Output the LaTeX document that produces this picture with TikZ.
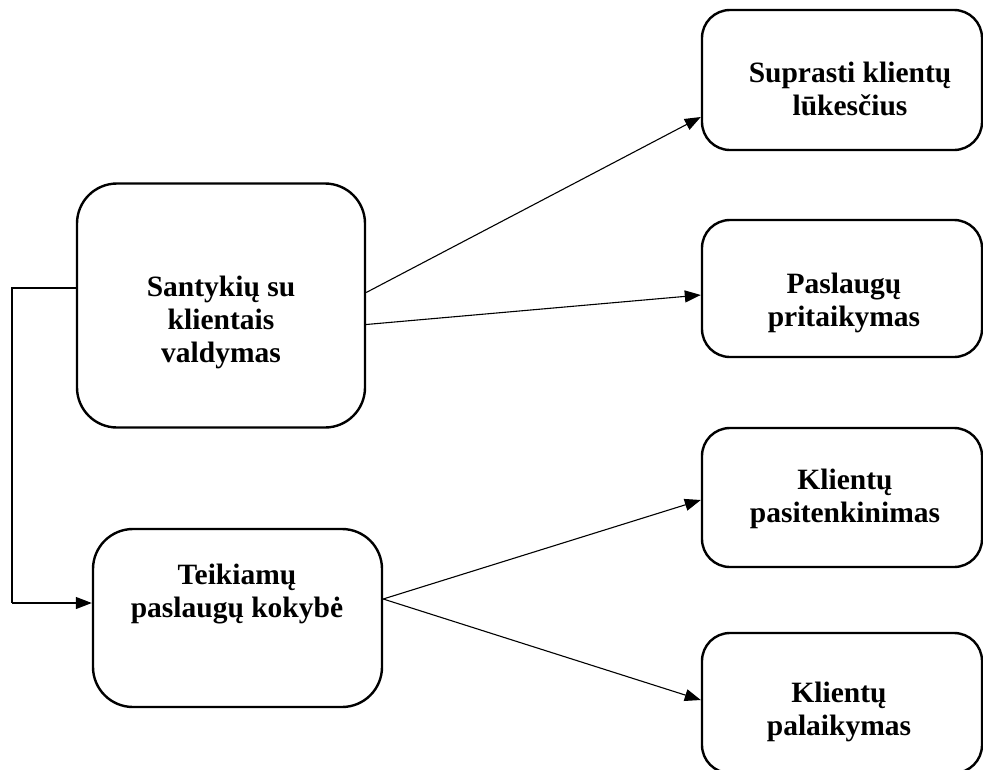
\documentclass[tikz,border=0pt]{standalone}
\usepackage{fontspec}
\setmainfont{Liberation Serif}
\usetikzlibrary{arrows.meta}
\begin{document}
\begin{tikzpicture}[x=1pt,y=-1pt,
  box/.style={draw, line width=2.4pt, rounded corners=#1, inner sep=0pt},
  box/.default=28pt,
  lbl/.style={align=center, inner sep=0pt,
    font=\fontsize{29.5}{33}\selectfont\bfseries},
  link/.style={line width=1.1pt, -{Triangle[length=16pt,width=12pt]}},
  plain/.style={line width=1.1pt}]
\useasboundingbox (0,0) rectangle (983,769);
\clip (0,0) rectangle (983,769);

% left column
\node[box=40pt, minimum width=288pt, minimum height=244pt] (scv) at (221,305.5) {};
\node[lbl] (scvt) at (221,322) {Santykių su\\klientais\\valdymas};
\node[box=40pt, minimum width=289pt, minimum height=178pt] (tpk) at (237.5,618) {};
\node[lbl] (tpkt) at (237,594) {Teikiamų\\paslaugų kokybė};

% right column
\node[box, minimum width=280pt, minimum height=140pt] (slk) at (842,80) {};
\node[lbl] (slkt) at (850,89) {Suprasti klientų\\lūkesčius};
\node[box, minimum width=280pt, minimum height=137pt] (pp) at (842,288.5) {};
\node[lbl] (ppt) at (844,303) {Paslaugų\\pritaikymas};
\node[box, minimum width=280pt, minimum height=139pt] (kp) at (842,497.5) {};
\node[lbl] (kpt) at (845,499) {Klientų\\pasitenkinimas};
\node[box, minimum width=280pt, minimum height=140pt] (kpl) at (842,703) {};
\node[lbl] (kplt) at (839,712) {Klientų\\palaikymas};

% connectors
\draw[link] ([yshift=13pt]scv.east) -- ([yshift=-37pt]slk.west);
\draw[link] ([yshift=-19pt]scv.east) -- ([yshift=-6.5pt]pp.west);
\draw[link] ([yshift=19pt]tpk.east) -- ([yshift=-2.5pt]kp.west);
\draw[link] ([yshift=19pt]tpk.east) -- ([yshift=3pt]kpl.west);
\coordinate (elbowA) at (12,288);
\coordinate (elbowB) at (12,603);
\draw[plain] ([yshift=17.5pt]scv.west) -- (elbowA) -- (elbowB);
\draw[link] (elbowB) -- ([yshift=15pt]tpk.west);
\end{tikzpicture}
\end{document}
